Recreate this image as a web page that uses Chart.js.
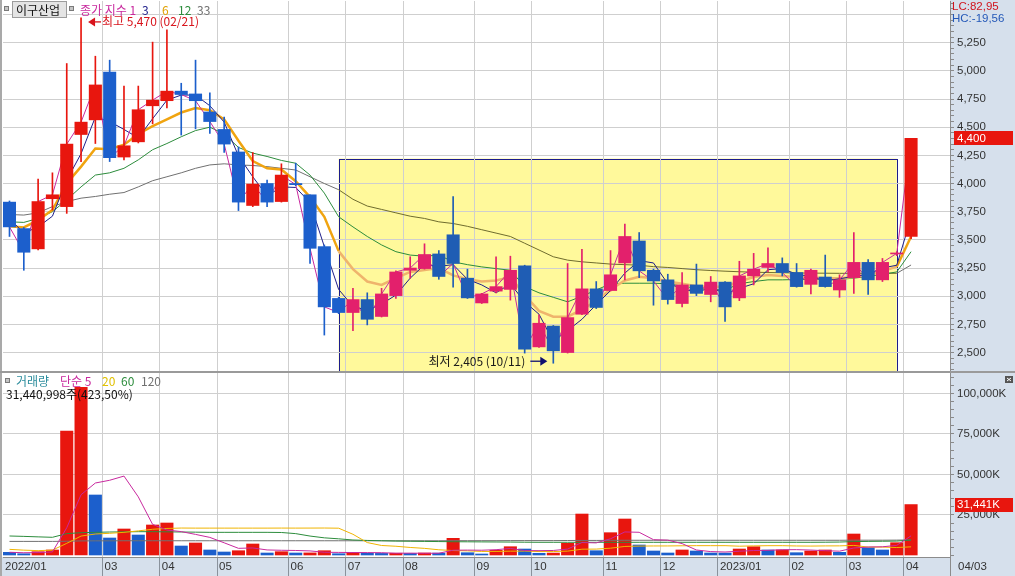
<!DOCTYPE html>
<html>
<head>
<meta charset="utf-8">
<script src="https://cdn.jsdelivr.net/npm/chart.js@4.4.0/dist/chart.umd.min.js"></script>
<style>
  html, body { margin: 0; padding: 0; background: #fff; }
  #wrap { position: relative; width: 1015px; height: 576px; overflow: hidden; }
  #price { position: absolute; left: 0; top: 0; }
  #volume { position: absolute; left: 0; top: 372px; }
</style>
</head>
<body>
<div id="wrap">
  <canvas id="price" width="1015" height="372"></canvas>
  <canvas id="volume" width="1015" height="204"></canvas>
</div>
<script>
// weekly candles, first trading day of each week
const weeks = [
  "2022/01/17","2022/01/24","2022/02/03","2022/02/07","2022/02/14","2022/02/21","2022/02/28","2022/03/07",
  "2022/03/14","2022/03/21","2022/03/28","2022/04/04","2022/04/11","2022/04/18","2022/04/25","2022/05/02",
  "2022/05/09","2022/05/16","2022/05/23","2022/05/30","2022/06/07","2022/06/13","2022/06/20","2022/06/27",
  "2022/07/04","2022/07/11","2022/07/18","2022/07/25","2022/08/01","2022/08/08","2022/08/16","2022/08/22",
  "2022/08/29","2022/09/05","2022/09/13","2022/09/19","2022/09/26","2022/10/04","2022/10/11","2022/10/17",
  "2022/10/24","2022/10/31","2022/11/07","2022/11/14","2022/11/21","2022/11/28","2022/12/05","2022/12/12",
  "2022/12/19","2022/12/26","2023/01/02","2023/01/09","2023/01/16","2023/01/25","2023/01/30","2023/02/06",
  "2023/02/13","2023/02/20","2023/02/27","2023/03/06","2023/03/13","2023/03/20","2023/03/27","2023/04/03"
];

const opens = [
  3835,3600,3420,3865,3795,4435,4565,4990,
  4235,4370,4690,4735,4820,4795,4635,4480,
  4280,3805,4000,3840,4000,3900,3440,2980,
  2855,2970,2820,3005,3230,3245,3375,3545,
  3160,2940,3045,3060,3270,2550,2735,2500,
  2840,3065,3050,3295,3490,3230,3145,2935,
  3100,3015,3125,2985,3180,3255,3290,3210,
  3105,3170,3055,3165,3300,3145,3375,3530
];
const highs = [
  3845,3610,4040,4095,5065,5470,5130,5095,
  4865,4865,5255,5365,4890,5095,4805,4590,
  4325,4275,4030,4175,4180,3900,3455,2990,
  3070,3030,3070,3225,3350,3465,3405,3885,
  3240,3025,3350,3355,3275,2835,2740,3290,
  3415,3130,3405,3640,3565,3240,3195,3210,
  3285,3175,3130,3310,3380,3430,3340,3290,
  3240,3365,3190,3565,3325,3335,3395,4400
];
const lows = [
  3530,3230,3410,3765,3735,4195,4355,4195,
  4210,4360,4530,4670,4430,4485,4445,4275,
  3760,3795,3795,3835,3980,3290,2655,2845,
  2695,2745,2815,2980,3160,3240,3150,3080,
  2980,2935,3030,2965,2495,2545,2405,2495,
  2835,2890,3045,3145,3165,2920,2930,2905,
  3005,2950,2775,2960,3100,3215,3180,3080,
  3020,3080,2990,3025,3015,3130,3360,3510
];
const closes = [
  3615,3390,3840,3900,4350,4545,4875,4230,
  4335,4655,4740,4820,4790,4735,4550,4350,
  3835,3995,3835,4075,3990,3425,2905,2855,
  2970,2795,3020,3215,3250,3370,3175,3290,
  2985,3020,3085,3230,2530,2760,2515,2810,
  3065,2900,3190,3530,3225,3135,2970,3100,
  3025,3125,2905,3180,3240,3290,3210,3085,
  3230,3085,3145,3300,3145,3300,3380,4400
];

// price moving averages (3, 6, 12, 33 weeks)
const ma3 = [
  3690,3560,3615,3710,4030,4265,4590,4550,
  4480,4405,4575,4740,4785,4785,4690,4545,
  4245,4060,3890,3970,3965,3830,3440,3060,
  2910,2875,2930,3010,3160,3280,3265,3280,
  3150,3100,3030,3110,2950,2840,2600,2695,
  2795,2925,3050,3205,3315,3295,3110,3070,
  3030,3080,3020,3070,3110,3235,3245,3195,
  3175,3135,3155,3175,3195,3250,3275,3695
];
const ma6 = [
  3620,3610,3675,3765,4000,4150,4310,4305,
  4345,4440,4510,4570,4630,4670,4650,4570,
  4380,4200,4135,4125,4020,3880,3705,3400,
  3240,3130,3100,3160,3215,3232,3250,3185,
  3150,3130,3140,3170,3010,2870,2818,2818,
  2880,2960,3060,3140,3173,3160,3130,3110,
  3088,3084,3084,3130,3170,3188,3180,3170,
  3165,3160,3159,3170,3188,3220,3262,3530
];
const ma12 = [
  3660,3655,3690,3750,3855,3970,4075,4095,
  4135,4210,4300,4355,4415,4470,4500,4440,
  4320,4270,4240,4205,4180,4075,3915,3705,
  3615,3530,3455,3395,3365,3355,3365,3305,
  3280,3260,3245,3230,3085,3030,2990,2950,
  3000,3055,3110,3115,3115,3115,3110,3090,
  3070,3060,3055,3110,3130,3145,3145,3148,
  3150,3150,3150,3160,3175,3195,3215,3395
];
const ma33 = [
  3725,3720,3740,3795,3840,3870,3885,3905,
  3920,3970,4025,4060,4095,4135,4165,4175,
  4165,4160,4150,4135,4120,4060,4000,3945,
  3860,3800,3770,3740,3710,3690,3660,3645,
  3620,3590,3560,3530,3470,3410,3350,3320,
  3305,3295,3285,3280,3275,3262,3255,3245,
  3235,3228,3222,3217,3213,3210,3208,3206,
  3205,3204,3203,3203,3203,3203,3203,3277
];

// volume in thousands of shares
const volumes = [
  1975,1100,2350,3400,76860,103800,37350,10800,
  16360,12650,18830,20060,5860,7720,3400,2160,
  2960,7100,1540,2350,1540,1600,2960,1100,
  1975,1350,1300,1400,1300,1540,1480,10600,
  1730,925,3200,5430,4000,1360,1500,7530,
  25600,2960,14080,22530,6480,2780,1540,3400,
  2780,1540,1500,4000,5430,3400,3450,1730,
  2780,3400,1975,13270,4800,3400,7900,31441
];
const volMa5 = [
  2000,1700,1800,2200,17137,37502,44752,46442,
  49034,36192,19198,15740,14752,13024,11174,7840,
  4420,4668,3432,3222,3098,2826,1998,1910,
  1835,1797,1737,1425,1465,1378,1404,3264,
  3330,3255,3587,4377,3057,2983,3098,3964,
  7998,7790,10334,14540,14330,9766,9482,7346,
  3396,2408,2152,2644,3050,3174,3556,3602,
  3358,2952,2667,4631,5245,5369,6269,12162
];
const volMa20 = [
  3800,3300,3000,3300,7500,12000,13270,13700,
  14300,15200,16200,16700,16950,16900,16900,16900,
  16900,16900,16900,16931,16910,16935,16965,16850,
  13106,7983,6181,5711,4958,4402,3535,3062,
  2855,2516,2506,2669,2721,2434,2432,2691,
  3894,3962,4518,5590,5815,5886,5898,5998,
  6072,6072,6073,5743,5928,6052,6065,5880,
  5819,5921,5944,6231,5191,5213,4904,5350
];
const volMa60 = [
  12040,11800,11500,11230,13500,14080,14300,14500,
  14600,14700,14700,14600,14500,14400,14300,14300,
  14300,14300,14300,14200,13500,12000,10900,10300,
  9570,9300,9100,8900,8800,8700,8600,8500,
  8450,8400,8350,8300,8200,8150,8150,8150,
  8150,8150,8150,8150,8150,8150,8150,8150,
  8150,8150,8150,8150,8150,8150,8150,8150,
  8150,8200,8300,8600,8700,8800,8900,9570
];
const volMa120 = [
  8700,8700,8700,8700,8800,9000,9050,9050,
  9100,9100,9100,9100,9100,9100,9100,9100,
  9100,9100,9100,9100,9100,9100,9100,9100,
  9100,9100,9100,9100,9100,9100,9100,9150,
  9150,9150,9150,9200,9200,9200,9200,9250,
  9300,9300,9350,9400,9400,9400,9400,9400,
  9400,9400,9400,9400,9400,9400,9400,9400,
  9400,9400,9400,9450,9450,9450,9500,9600
];

const priceTicks = [2500,2750,3000,3250,3500,3750,4000,4250,4500,4750,5000,5250];
const volTicks = [25000,50000,75000,100000];
const box = { from: 23, to: 62, top: 4222 };   // highlighted range (week index, price)

// ---- look ----
const FONT_NUM = '"Liberation Sans", "Noto Sans CJK KR", sans-serif';
const FONT_KR = '"Noto Sans CJK KR", "Liberation Sans", sans-serif';
const AXIS_W = 65;
const AXIS_BG = '#D6E0EC';
const GRID = '#CFCFCF';
const RED = '#E8160E', BLUE = '#1C5FCC', PINK = '#E3206C', BLUE_BOX = '#1F5DB4';
const MAGENTA = '#C8299E', NAVY = '#1E1E8A', ORANGE = '#F0A410', ORANGE_BOX = '#EFB46C';
const GREEN = '#2C8C3C', GRAY = '#707070', OLIVE = '#6F6C2E';
const X_MIN = -0.454, X_MAX = 65.72;

Chart.defaults.font.family = FONT_NUM;

const fmt = n => n.toLocaleString('en-US');
const pts = arr => arr.map((v, i) => ({ x: i, y: v }));
const inBox = i => i > box.from && i <= box.to;

function candleColor(i) {
  const up = closes[i] >= opens[i];
  if (inBox(i)) return up ? PINK : BLUE_BOX;
  return up ? RED : BLUE;
}
function volColor(i) {
  return i > 0 && volumes[i] >= volumes[i - 1] ? RED : BLUE;
}

// month labels; a month too close to the previous label is skipped
const shownMonths = [];
weeks.forEach((w, i) => {
  if (i > 0 && w.slice(0, 7) === weeks[i - 1].slice(0, 7)) return;
  const last = shownMonths[shownMonths.length - 1];
  if (last !== undefined && i - last < 3) return;
  shownMonths.push(i);
});
function monthGrid(scale) {
  scale.ticks = shownMonths.filter(i => i > 0).map(i => ({ value: i - 0.5 }));
}
function minorTicks(from, to, step) {
  const t = [];
  for (let v = from; v <= to; v += step) t.push({ value: v });
  return t;
}
// fixed axis width, no extra room for half labels at the ends
function fitRight(s) {
  s.width = AXIS_W;
  s.paddingTop = 0;
  s.paddingBottom = 0;
}

function maLine(label, data, color, width, boxColor) {
  const ds = {
    type: 'line', label, data: pts(data), borderColor: color, borderWidth: width,
    pointRadius: 0, tension: 0, order: 3
  };
  if (boxColor) {
    ds.segment = {
      borderColor: ctx => (ctx.p0DataIndex >= box.from && ctx.p1DataIndex <= box.to ? boxColor : color)
    };
  }
  return ds;
}

function txt(ctx, s, x, y, color, font, align) {
  ctx.font = font;
  ctx.fillStyle = color;
  ctx.textAlign = align || 'left';
  ctx.textBaseline = 'middle';
  ctx.fillText(s, x, y);
  return x + ctx.measureText(s).width;
}
function bullet(ctx, x, y) {
  ctx.fillStyle = '#C4C4C4';
  ctx.fillRect(x, y - 3, 5, 5);
  ctx.strokeStyle = '#7A7A7A';
  ctx.lineWidth = 1;
  ctx.strokeRect(x + 0.5, y - 2.5, 4, 4);
}
function arrow(ctx, x0, x1, y, color) {
  // head at x0
  const dir = x1 > x0 ? 1 : -1;
  ctx.strokeStyle = color;
  ctx.fillStyle = color;
  ctx.lineWidth = 1.3;
  ctx.beginPath();
  ctx.moveTo(x0 + dir * 4, y);
  ctx.lineTo(x1, y);
  ctx.stroke();
  ctx.beginPath();
  ctx.moveTo(x0, y);
  ctx.lineTo(x0 + dir * 7, y - 4.5);
  ctx.lineTo(x0 + dir * 7, y + 4.5);
  ctx.closePath();
  ctx.fill();
}

const priceDecor = {
  id: 'priceDecor',
  beforeDraw(chart) {
    const { ctx, chartArea: a, scales: { x, y } } = chart;
    ctx.save();
    ctx.fillStyle = AXIS_BG;
    ctx.fillRect(a.right, 0, chart.width - a.right, chart.height);
    const bx0 = x.getPixelForValue(box.from), bx1 = x.getPixelForValue(box.to);
    const by0 = y.getPixelForValue(box.top);
    ctx.fillStyle = '#FFF99B';
    ctx.fillRect(bx0, by0, bx1 - bx0, a.bottom - by0 + 2);
    ctx.strokeStyle = '#1C1C8C';
    ctx.lineWidth = 1;
    ctx.strokeRect(Math.round(bx0) + 0.5, Math.round(by0) + 0.5, Math.round(bx1 - bx0), a.bottom - by0 + 4);
    ctx.restore();
  },
  afterDraw(chart) {
    const { ctx, chartArea: a, scales: { x, y } } = chart;
    ctx.save();
    ctx.fillStyle = '#A9A9A9';
    ctx.fillRect(0, 0, 2, chart.height);
    ctx.fillStyle = '#9A9A9A';
    ctx.fillRect(0, chart.height - 1, chart.width, 1);

    // legend
    bullet(ctx, 4, 9);
    ctx.fillStyle = '#E4E4E4';
    ctx.fillRect(12, 1, 55, 17);
    ctx.strokeStyle = '#9C9C9C';
    ctx.strokeRect(12.5, 1.5, 54, 16);
    txt(ctx, '이구산업', 16, 10, '#111', '12px ' + FONT_KR);
    bullet(ctx, 69, 9);
    txt(ctx, '종가 지수 1', 80, 10, MAGENTA, '12px ' + FONT_KR);
    txt(ctx, '3', 142, 10, NAVY, '12px ' + FONT_KR);
    txt(ctx, '6', 162, 10, '#E0A000', '12px ' + FONT_KR);
    txt(ctx, '12', 178, 10, GREEN, '12px ' + FONT_KR);
    txt(ctx, '33', 197, 10, GRAY, '12px ' + FONT_KR);

    // highest / lowest notes
    const hi = Math.max(...highs), hiIdx = highs.indexOf(hi);
    const hx = x.getPixelForValue(hiIdx) + 7, hy = y.getPixelForValue(hi) + 4;
    arrow(ctx, hx, hx + 13, hy, '#D8141C');
    txt(ctx, '최고 ' + fmt(hi) + ' (' + weeks[hiIdx].slice(5) + ')', hx + 14, hy, '#D8141C', '12px ' + FONT_KR);

    const lo = Math.min(...lows), loIdx = lows.indexOf(lo);
    const lx = x.getPixelForValue(loIdx) - 6, ly = y.getPixelForValue(lo) - 2;
    arrow(ctx, lx, lx - 17, ly, '#101070');
    txt(ctx, '최저 ' + fmt(lo) + ' (' + weeks[loIdx].slice(5) + ')', lx - 22, ly, '#1A1A1A', '12px ' + FONT_KR, 'right');

    // right axis extras
    txt(ctx, 'LC:82,95', a.right + 2, 7, '#D0141E', '11.5px ' + FONT_NUM);
    txt(ctx, 'HC:-19,56', a.right + 2, 19, '#2458B8', '11.5px ' + FONT_NUM);
    const last = closes[closes.length - 1];
    const py = y.getPixelForValue(last);
    ctx.fillStyle = RED;
    ctx.fillRect(a.right + 4, Math.round(py) - 7, 59, 14);
    txt(ctx, fmt(last), a.right + 7, py, '#fff', '11.5px ' + FONT_NUM);
    ctx.restore();
  }
};

const volumeDecor = {
  id: 'volumeDecor',
  beforeDraw(chart) {
    const { ctx, chartArea: a } = chart;
    ctx.save();
    ctx.fillStyle = AXIS_BG;
    ctx.fillRect(a.right, 0, chart.width - a.right, chart.height);
    ctx.fillRect(0, a.bottom, chart.width, chart.height - a.bottom);
    ctx.restore();
  },
  afterDraw(chart) {
    const { ctx, chartArea: a, scales: { x, y } } = chart;
    ctx.save();
    ctx.fillStyle = '#A9A9A9';
    ctx.fillRect(0, 0, 2, chart.height);
    ctx.fillStyle = '#9A9A9A';
    ctx.fillRect(0, 0, chart.width, 1);
    ctx.fillStyle = '#8C8C8C';
    ctx.fillRect(a.right, a.bottom, 1, chart.height - a.bottom);

    // legend
    bullet(ctx, 5, 9);
    const kr = '12px ' + FONT_KR;
    txt(ctx, '거래량', 16, 9.5, '#2B8C9C', kr);
    txt(ctx, '단순 5', 60, 9.5, MAGENTA, kr);
    txt(ctx, '20', 102, 9.5, '#E0C000', kr);
    txt(ctx, '60', 121, 9.5, GREEN, kr);
    txt(ctx, '120', 141, 9.5, GRAY, kr);
    txt(ctx, '31,440,998주(423,50%)', 6, 22, '#111', kr);

    // last volume label
    const lastVol = volumes[volumes.length - 1];
    const vy = y.getPixelForValue(lastVol);
    ctx.fillStyle = RED;
    ctx.fillRect(a.right + 5, Math.round(vy) - 7, 58, 14);
    txt(ctx, fmt(lastVol) + 'K', a.right + 7, vy, '#fff', '11.5px ' + FONT_NUM);

    // small pane icon
    ctx.fillStyle = '#555';
    ctx.fillRect(1005, 4, 8, 7);
    ctx.strokeStyle = '#fff';
    ctx.lineWidth = 1;
    ctx.beginPath();
    ctx.moveTo(1007, 6); ctx.lineTo(1011, 9);
    ctx.moveTo(1011, 6); ctx.lineTo(1007, 9);
    ctx.stroke();

    // date axis labels
    const ly = a.bottom + 10;
    shownMonths.forEach((i, k) => {
      const w = weeks[i];
      const mm = w.slice(5, 7);
      const label = (k === 0 || mm === '01') ? w.slice(0, 7) : mm;
      const gx = k === 0 ? a.left : x.getPixelForValue(i - 0.5);
      txt(ctx, label, gx + 2, ly, '#333', '11.5px ' + FONT_NUM);
    });
    txt(ctx, weeks[weeks.length - 1].slice(5), a.right + 8, ly, '#333', '11.5px ' + FONT_NUM);
    ctx.restore();
  }
};

new Chart(document.getElementById('price'), {
  type: 'bar',
  data: {
    datasets: [
      maLine('종가 1', closes, MAGENTA, 1),
      maLine('3', ma3, NAVY, 1),
      maLine('6', ma6, ORANGE, 2.5, ORANGE_BOX),
      maLine('12', ma12, GREEN, 1),
      maLine('33', ma33, GRAY, 1, OLIVE),
      {
        type: 'bar', label: 'wick',
        data: highs.map((h, i) => ({ x: i, y: [lows[i], h] })),
        backgroundColor: highs.map((_, i) => candleColor(i)),
        barThickness: 1, grouped: false, order: 2
      },
      {
        type: 'bar', label: 'body',
        data: opens.map((o, i) => ({ x: i, y: [o, closes[i]] })),
        backgroundColor: opens.map((_, i) => candleColor(i)),
        barThickness: 12.4, minBarLength: 1, grouped: false, order: 1
      }
    ]
  },
  options: {
    responsive: false,
    animation: false,
    devicePixelRatio: 1,
    layout: { padding: { left: 3, top: 1, bottom: 1, right: 0 } },
    plugins: { legend: { display: false }, tooltip: { enabled: false } },
    scales: {
      x: {
        type: 'linear', min: X_MIN, max: X_MAX, offset: false,
        afterBuildTicks: monthGrid,
        afterFit: s => { s.height = 0; s.paddingLeft = 0; s.paddingRight = 0; },
        ticks: { display: false },
        grid: { color: GRID, drawTicks: false, offset: false },
        border: { display: false }
      },
      y: {
        position: 'right', min: 2336, max: 5620,
        afterFit: fitRight,
        afterBuildTicks: s => { s.ticks = minorTicks(2350, 5600, 50); },
        ticks: {
          autoSkip: false, padding: 3, color: '#333',
          font: { family: FONT_NUM, size: 11.5 },
          callback: v => (priceTicks.includes(v) ? fmt(v) : '')
        },
        grid: {
          color: ctx => (ctx.tick && ctx.tick.value % 250 === 0 ? GRID : 'rgba(0,0,0,0)'),
          tickColor: '#8A8A8A', tickLength: 4
        },
        border: { color: '#8C8C8C' }
      }
    }
  },
  plugins: [priceDecor]
});

new Chart(document.getElementById('volume'), {
  type: 'bar',
  data: {
    datasets: [
      maLine('5', volMa5, MAGENTA, 1),
      maLine('20', volMa20, '#F0B400', 1),
      maLine('60', volMa60, GREEN, 1),
      maLine('120', volMa120, GRAY, 1),
      {
        type: 'bar', label: '거래량',
        data: pts(volumes),
        backgroundColor: volumes.map((_, i) => volColor(i)),
        barThickness: 12.4, grouped: false, order: 4
      }
    ]
  },
  options: {
    responsive: false,
    animation: false,
    devicePixelRatio: 1,
    layout: { padding: { left: 3, top: 1, bottom: 0, right: 0 } },
    plugins: { legend: { display: false }, tooltip: { enabled: false } },
    scales: {
      x: {
        type: 'linear', min: X_MIN, max: X_MAX, offset: false,
        afterBuildTicks: monthGrid,
        afterFit: s => { s.height = 19; s.paddingLeft = 0; s.paddingRight = 0; },
        ticks: { display: false },
        grid: { color: GRID, drawTicks: true, tickLength: 19, tickColor: '#8A929C', offset: false },
        border: { color: '#8C8C8C' }
      },
      y: {
        position: 'right', min: -926, max: 112654,
        afterFit: fitRight,
        afterBuildTicks: s => { s.ticks = minorTicks(0, 110000, 5000); },
        ticks: {
          autoSkip: false, padding: 3, color: '#333',
          font: { family: FONT_NUM, size: 11.5 },
          callback: v => (volTicks.includes(v) ? fmt(v) + 'K' : '')
        },
        grid: {
          color: ctx => (ctx.tick && volTicks.includes(ctx.tick.value) ? GRID : 'rgba(0,0,0,0)'),
          tickColor: '#8A8A8A', tickLength: 4
        },
        border: { color: '#8C8C8C' }
      }
    }
  },
  plugins: [volumeDecor]
});
</script>
</body>
</html>
